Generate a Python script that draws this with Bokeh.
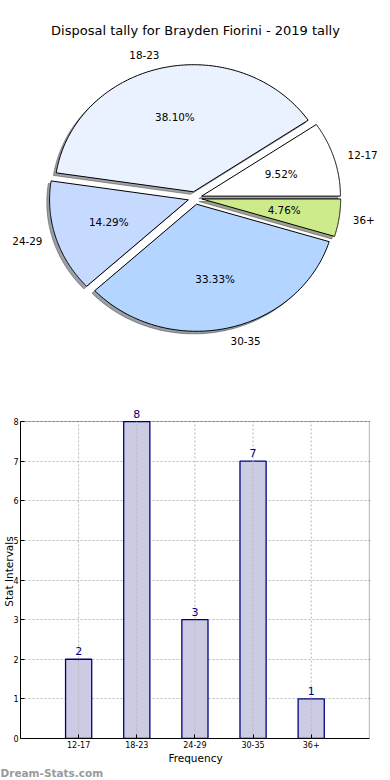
import numpy as np
from bokeh.plotting import figure
from bokeh.models import (ColumnDataSource, Label, LabelSet, Range1d, FixedTicker,
                          BoxAnnotation, Title)
from bokeh.core.properties import value, field
from bokeh.embed import file_html
from bokeh.resources import INLINE

# ---------------- data ----------------
title = "Disposal tally for Brayden Fiorini - 2019 tally"
categories = ["12-17", "18-23", "24-29", "30-35", "36+"]
counts = [2, 8, 3, 7, 1]
pie_colors = ["#ffffff", "#eaf1ff", "#c6d9ff", "#b3d5ff", "#cdeb8b"]
y_ticks = [0, 1, 2, 3, 4, 5, 6, 7, 8]
x_label = "Frequency"
y_label = "Stat Intervals"
watermark = "Dream-Stats.com"

FONT = "DejaVu Sans"
total = sum(counts)
explode = 0.05
shadow_off = 0.02


def shade(hexcol, f=0.3):
    h = hexcol.lstrip("#")
    r, g, b = (int(h[i:i + 2], 16) for i in (0, 2, 4))
    return "#%02x%02x%02x" % (int(r * f), int(g * f), int(b * f))


# ---------------- pie geometry from the data ----------------
w_xs, w_ys, s_xs, s_ys = [], [], [], []
lab_x, lab_y, lab_align, pct_x, pct_y, pct_text = [], [], [], [], [], []
start = 0.0
for c in counts:
    t1 = start
    t2 = start + 360.0 * c / total
    start = t2
    tm = np.radians((t1 + t2) / 2)
    ox, oy = explode * np.cos(tm), explode * np.sin(tm)
    arc = np.radians(np.linspace(t1, t2, 120))
    xs = [ox] + list(ox + np.cos(arc)) + [ox]
    ys = [oy] + list(oy + np.sin(arc)) + [oy]
    w_xs.append(xs)
    w_ys.append(ys)
    s_xs.append([v - shadow_off for v in xs])
    s_ys.append([v - shadow_off for v in ys])
    lx = ox + 1.1 * np.cos(tm)
    ly = oy + 1.1 * np.sin(tm)
    lab_x.append(lx)
    lab_y.append(ly)
    lab_align.append("left" if lx > 0 else "right")
    pct_x.append(ox + 0.6 * np.cos(tm))
    pct_y.append(oy + 0.6 * np.sin(tm))
    pct_text.append("%.2f%%" % (100.0 * c / total))

PIE_W, PIE_H = 390, 390
CX, CY, RX, RY = 194.5, 197.5, 138.8, 127.1   # pixel centre / radii in the frame
pie = figure(width=PIE_W, height=PIE_H,
             x_range=Range1d(-CX / RX, (PIE_W - CX) / RX),
             y_range=Range1d(-(PIE_H - CY) / RY, CY / RY), output_backend="svg",
             toolbar_location=None, x_axis_type=None, y_axis_type=None,
             min_border=0)
pie.outline_line_color = None
pie.grid.visible = False

shadow_src = ColumnDataSource(dict(xs=s_xs, ys=s_ys,
                                   color=[shade(c) for c in pie_colors]))
pie.patches("xs", "ys", source=shadow_src, fill_color="color", fill_alpha=0.5,
            line_color="color", line_alpha=0.5, line_width=1)

wedge_src = ColumnDataSource(dict(xs=w_xs, ys=w_ys, color=pie_colors, cat=categories))
pie.patches("xs", "ys", source=wedge_src, fill_color="color", line_color="black",
            line_width=1)

lab_src = ColumnDataSource(dict(x=lab_x, y=lab_y, text=categories, align=lab_align))
pie.text(x="x", y="y", text="text", source=lab_src, text_align=field("align"),
         text_baseline="middle", text_font=value(FONT), text_font_size="10.4px",
         text_color="black")

pct_src = ColumnDataSource(dict(x=pct_x, y=pct_y, text=pct_text))
pie.text(x="x", y="y", text="text", source=pct_src, text_align="center",
         text_baseline="middle", text_font=value(FONT), text_font_size="10.4px",
         text_color="black")

pie.add_layout(Label(x=195, y=PIE_H - 30, x_units="screen", y_units="screen",
                     text=title, text_align="center", text_baseline="middle",
                     text_font=FONT, text_font_size="13px", text_color="black"))

# ---------------- bar chart ----------------
x_lo, x_hi = -1, len(categories)
y_top = 8.43   # a little head-room above the top tick for the value labels
bar = figure(width=390, height=390, x_range=Range1d(x_lo, x_hi + 0.02),
             y_range=Range1d(y_ticks[0], y_top), output_backend="svg",
             toolbar_location=None, min_border_left=0, min_border_right=20,
             min_border_top=14, min_border_bottom=0)
bar.outline_line_color = None

bsrc = ColumnDataSource(dict(x=list(range(len(categories))), top=counts,
                             cat=categories, label=[str(c) for c in counts],
                             y0=[y_ticks[0]] * len(categories),
                             y1=[y_ticks[-1]] * len(categories)))
bar.vbar(x="x", top="top", width=0.45, source=bsrc, fill_color="#cbcbe3",
         line_color="#000080", line_width=1.3)
# vertical dotted grid lines at the categories (drawn over the bars)
bar.segment(x0="x", y0="y0", x1="x", y1="y1", source=bsrc, line_color="#b8b8b8",
            line_dash="2 2", line_width=1)
bar.add_layout(LabelSet(x="x", y="top", text="label", source=bsrc, y_offset=4,
                        text_align="center", text_baseline="bottom",
                        text_color="#000080", text_font=value(FONT),
                        text_font_size="11px"))

# axes box from y = 0 to the top tick
bar.add_layout(BoxAnnotation(left=x_lo, right=x_hi, bottom=y_ticks[0], top=y_ticks[-1],
                             fill_alpha=0, line_color="black", line_width=1))

xa = bar.xaxis[0]
xa.ticker = FixedTicker(ticks=list(range(len(categories))))
xa.major_label_overrides = {i: c for i, c in enumerate(categories)}
xa.bounds = (x_lo, x_hi)
ya = bar.yaxis[0]
ya.ticker = FixedTicker(ticks=y_ticks)
ya.bounds = (y_ticks[0], y_ticks[-1])
for ax in (xa, ya):
    ax.major_tick_in = 4
    ax.major_tick_out = 0
    ax.minor_tick_line_color = None
    ax.axis_line_color = "black"
    ax.major_tick_line_color = "black"
    ax.major_label_text_font = FONT
    ax.major_label_text_font_size = "8px"
    ax.major_label_text_color = "black"
    ax.major_label_standoff = 2
    ax.axis_label_text_font = FONT
    ax.axis_label_text_font_size = "10.5px"
    ax.axis_label_text_font_style = "normal"
    ax.axis_label_text_color = "black"
    ax.axis_label_standoff = 1
ya.axis_label_standoff = -5
xa.axis_label = x_label
ya.axis_label = y_label

bar.ygrid.ticker = FixedTicker(ticks=y_ticks)
bar.ygrid.grid_line_color = "#b8b8b8"
bar.ygrid.grid_line_dash = "2 2"
bar.xgrid.visible = False

bar.add_layout(Title(text=watermark, align="left", offset=-20, standoff=0,
                     vertical_align="top",
                     text_font=FONT, text_font_size="10.5px", text_font_style="bold",
                     text_color="#9a9a9a"), "below")

open("out.html", "w").write(file_html([pie, bar], INLINE))
